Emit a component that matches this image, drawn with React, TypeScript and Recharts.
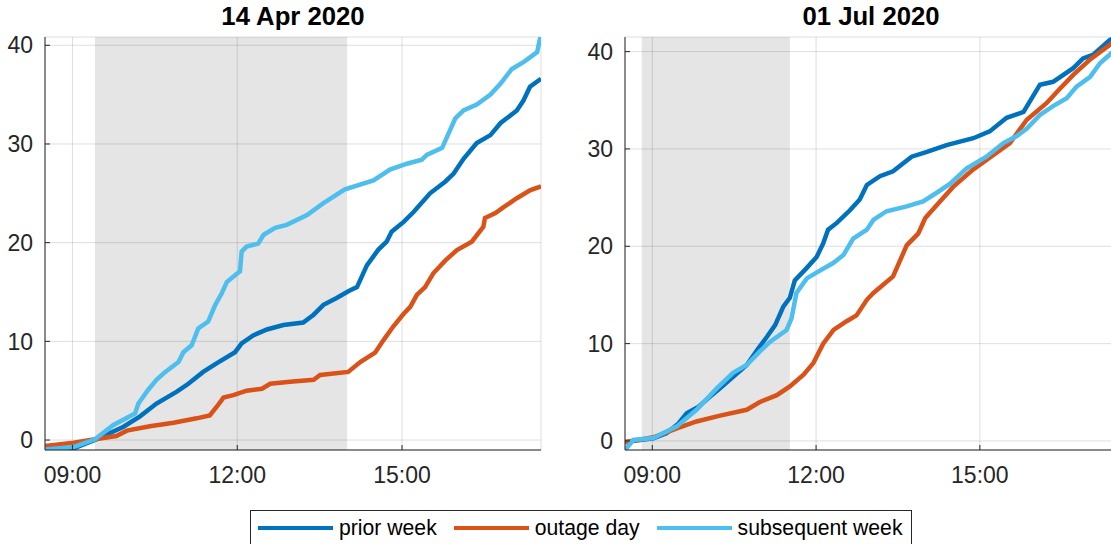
import { LineChart, Line, XAxis, YAxis, CartesianGrid, ReferenceArea } from "recharts";

// [hour of day, cumulative count]
const aprPrior: [number, number][] = [
  [8.5, -0.95], [9.02, -0.85], [9.41, 0], [9.93, 1.35], [10.23, 2.4], [10.53, 3.7], [10.9, 4.9],
  [11.11, 5.7], [11.38, 6.9], [11.63, 7.8], [11.96, 8.9], [12.08, 9.8], [12.29, 10.6], [12.54, 11.2],
  [12.84, 11.65], [13.2, 11.9], [13.39, 12.7], [13.57, 13.7], [13.81, 14.4], [14.03, 15.1], [14.18, 15.5],
  [14.36, 17.7], [14.57, 19.3], [14.72, 20.1], [14.81, 21.1], [15.03, 22.1], [15.21, 23.1], [15.51, 25.0],
  [15.79, 26.2], [15.94, 27.0], [16.12, 28.5], [16.36, 30.1], [16.61, 30.9], [16.79, 32.1], [17.09, 33.4],
  [17.21, 34.4], [17.33, 35.8], [17.53, 36.6],
];
const aprOutage: [number, number][] = [
  [8.5, -0.6], [9.02, -0.27], [9.41, 0.07], [9.8, 0.4], [9.99, 0.95], [10.41, 1.4], [10.84, 1.75],
  [11.26, 2.2], [11.5, 2.5], [11.63, 3.4], [11.75, 4.3], [11.93, 4.55], [12.17, 5.0], [12.45, 5.2],
  [12.6, 5.7], [12.96, 5.9], [13.39, 6.1], [13.51, 6.6], [14.02, 6.9], [14.24, 7.9], [14.51, 8.85],
  [14.66, 10.1], [14.84, 11.5], [15.03, 12.8], [15.15, 13.5], [15.27, 14.7], [15.42, 15.5], [15.57, 16.9],
  [15.79, 18.2], [16.0, 19.25], [16.27, 20.1], [16.48, 21.6], [16.51, 22.5], [16.7, 23.0], [16.85, 23.6],
  [17.09, 24.5], [17.33, 25.3], [17.53, 25.7],
];
const aprSubsequent: [number, number][] = [
  [8.5, -0.95], [9.02, -0.7], [9.41, 0.07], [9.74, 1.5], [10.14, 2.7], [10.2, 3.7], [10.38, 5.1],
  [10.53, 6.1], [10.69, 6.9], [10.93, 7.9], [11.02, 8.9], [11.17, 9.6], [11.29, 11.3], [11.47, 12.0],
  [11.6, 13.7], [11.72, 14.9], [11.81, 16.0], [11.96, 16.7], [12.05, 17.1], [12.08, 19.1], [12.17, 19.6],
  [12.38, 19.9], [12.48, 20.8], [12.69, 21.5], [12.9, 21.8], [13.27, 22.8], [13.57, 24.0], [13.96, 25.4],
  [14.48, 26.3], [14.78, 27.4], [15.09, 28.0], [15.36, 28.4], [15.45, 28.9], [15.73, 29.6], [15.85, 31.1],
  [15.97, 32.6], [16.12, 33.4], [16.36, 34.0], [16.61, 35.0], [16.79, 36.1], [17.0, 37.6], [17.21, 38.3],
  [17.46, 39.3], [17.52, 40.9],
];

const julPrior: [number, number][] = [
  [8.5, -0.1], [9.02, 0.28], [9.26, 0.8], [9.48, 1.8], [9.63, 2.85], [9.84, 3.5], [10.06, 4.55],
  [10.24, 5.4], [10.48, 6.6], [10.73, 7.8], [10.94, 9.5], [11.1, 10.7], [11.25, 11.9], [11.4, 13.8],
  [11.52, 14.7], [11.61, 16.5], [11.8, 17.6], [12.01, 18.9], [12.13, 20.3], [12.22, 21.7], [12.38, 22.4],
  [12.62, 23.7], [12.8, 24.8], [12.93, 26.3], [13.17, 27.2], [13.41, 27.7], [13.75, 29.2], [14.03, 29.7],
  [14.39, 30.4], [14.88, 31.1], [15.18, 31.8], [15.49, 33.2], [15.8, 33.8], [16.1, 36.6], [16.34, 36.9],
  [16.71, 38.3], [16.89, 39.3], [17.08, 39.7], [17.38, 41.2], [17.53, 41.5],
];
const julOutage: [number, number][] = [
  [8.5, -0.15], [9.02, 0.38], [9.45, 1.3], [9.81, 2.0], [10.24, 2.6], [10.73, 3.2], [10.97, 4.0],
  [11.28, 4.7], [11.52, 5.6], [11.77, 6.8], [11.95, 8.0], [12.13, 10.0], [12.32, 11.4], [12.56, 12.3],
  [12.74, 12.9], [12.93, 14.5], [13.05, 15.2], [13.41, 16.9], [13.66, 20.1], [13.87, 21.3], [14.0, 22.9],
  [14.27, 24.6], [14.51, 26.1], [14.88, 27.9], [15.18, 29.1], [15.55, 30.6], [15.86, 33.0], [16.22, 34.7],
  [16.47, 36.2], [16.71, 37.6], [17.02, 39.2], [17.38, 40.7], [17.53, 41.2],
];
const julSubsequent: [number, number][] = [
  [8.5, -0.95], [8.65, 0.1], [9.02, 0.3], [9.45, 1.5], [9.81, 3.2], [10.18, 5.4], [10.48, 7.0],
  [10.73, 7.8], [10.97, 9.2], [11.16, 10.2], [11.46, 11.4], [11.55, 12.6], [11.64, 15.2], [11.83, 16.7],
  [12.07, 17.5], [12.32, 18.3], [12.5, 19.1], [12.68, 20.8], [12.93, 21.7], [13.05, 22.7], [13.29, 23.6],
  [13.66, 24.1], [13.96, 24.6], [14.21, 25.5], [14.45, 26.4], [14.76, 28.0], [15.12, 29.2], [15.43, 30.6],
  [15.67, 31.3], [15.86, 32.1], [16.1, 33.5], [16.34, 34.4], [16.59, 35.2], [16.77, 36.4], [17.02, 37.4],
  [17.2, 38.8], [17.38, 39.7], [17.53, 40.4],
];

const hourTicks = [9, 12, 15];
const countTicks = [0, 10, 20, 30, 40];
const seriesNames = ["prior week", "outage day", "subsequent week"];
const seriesColors = ["#0072BD", "#D95319", "#4DBEEE"];

const FONT = '"Liberation Sans", Arial, Helvetica, sans-serif';
const INK = "#262626";

const toRows = (pts: [number, number][]) => pts.map(([h, v]) => ({ h, v }));
const fmtHour = (h: number) => `${String(Math.floor(h)).padStart(2, "0")}:00`;

type PanelProps = {
  left: number;
  width: number;
  yDomain: [number, number];
  shade: [number, number];
  series: [number, number][][];
};

function Panel({ left, width, yDomain, shade, series }: PanelProps) {
  return (
    <div style={{ position: "absolute", left, top: 0 }}>
      <LineChart width={width} height={500} margin={{ top: 37, right: 4, bottom: 0, left: 0 }}>
        <CartesianGrid stroke={INK} strokeOpacity={0.15} />
        <XAxis
          dataKey="h"
          type="number"
          domain={[8.5, 17.53]}
          allowDataOverflow
          ticks={hourTicks}
          tickFormatter={fmtHour}
          height={50}
          stroke={INK}
          tickSize={-5}
          tickMargin={22}
          tick={{ fill: INK, fontSize: 23, fontFamily: FONT }}
        />
        <YAxis
          type="number"
          domain={yDomain}
          allowDataOverflow
          ticks={countTicks}
          width={45}
          stroke={INK}
          tickSize={-5}
          tickMargin={17}
          tick={{ fill: INK, fontSize: 23, fontFamily: FONT }}
        />
        {series.map((pts, i) => (
          <Line
            key={seriesNames[i]}
            data={toRows(pts)}
            dataKey="v"
            type="linear"
            stroke={seriesColors[i]}
            strokeWidth={4.5}
            dot={false}
            activeDot={false}
            isAnimationActive={false}
          />
        ))}
        <ReferenceArea x1={shade[0]} x2={shade[1]} fill="#000" fillOpacity={0.1} stroke="none" />
      </LineChart>
    </div>
  );
}

export default function App() {
  return (
    <div
      style={{
        position: "fixed",
        left: 0,
        top: 0,
        width: 1111,
        height: 544,
        overflow: "hidden",
        background: "#fff",
        fontFamily: FONT,
      }}
    >
      <Panel left={0} width={545} yDomain={[-1.01, 40.84]} shade={[9.41, 14.0]} series={[aprPrior, aprOutage, aprSubsequent]} />
      <Panel left={580} width={542} yDomain={[-0.93, 41.5]} shade={[8.806, 11.52]} series={[julPrior, julOutage, julSubsequent]} />
      <svg width={1111} height={40} style={{ position: "absolute", left: 0, top: 0 }}>
        <text x={293} y={25} textAnchor="middle" fontFamily={FONT} fontSize={25.7} fontWeight="bold" fill="#000">
          14 Apr 2020
        </text>
        <text x={871} y={25} textAnchor="middle" fontFamily={FONT} fontSize={25.7} fontWeight="bold" fill="#000">
          01 Jul 2020
        </text>
      </svg>
      <div
        style={{
          position: "absolute",
          left: 250,
          top: 510,
          height: 40,
          boxSizing: "border-box",
          border: `1px solid ${INK}`,
          background: "#fff",
          display: "flex",
          alignItems: "flex-start",
          paddingLeft: 7,
          paddingRight: 8,
          paddingTop: 4,
        }}
      >
        {seriesNames.map((name, i) => (
          <div key={name} style={{ display: "flex", alignItems: "center", marginRight: i < 2 ? 17 : 0 }}>
            <span style={{ display: "inline-block", width: 75, height: 4, background: seriesColors[i], marginRight: 6 }} />
            <span style={{ fontSize: 21.2, color: "#000", lineHeight: "26px", whiteSpace: "nowrap" }}>{name}</span>
          </div>
        ))}
      </div>
    </div>
  );
}
